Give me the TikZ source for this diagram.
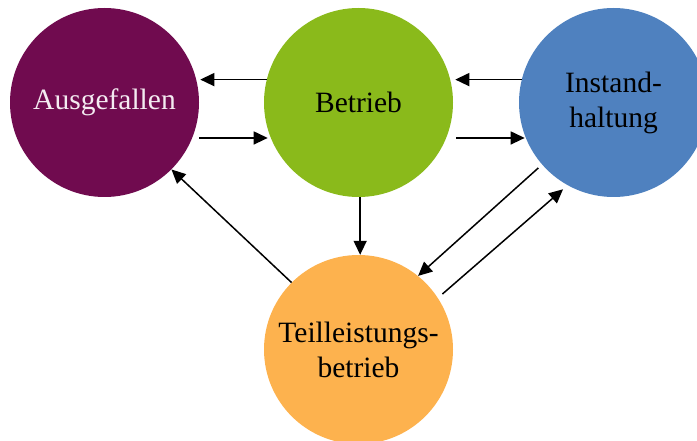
\documentclass[tikz,border=0pt]{standalone}
\usepackage{fontspec}
\setmainfont{Liberation Serif}
\usetikzlibrary{arrows.meta}
\definecolor{cAus}{HTML}{700B4F}
\definecolor{cBet}{HTML}{8ABA1B}
\definecolor{cIns}{HTML}{4F81BF}
\definecolor{cTei}{HTML}{FDB24E}
\tikzset{
  state/.style={circle, minimum size=189pt, inner sep=0pt, draw=none,
    align=center, font=\fontsize{29.5}{35}\selectfont},
  flow/.style={line width=1.5pt, -{Triangle[length=14pt,width=13pt]}}
}
\begin{document}
\begin{tikzpicture}[x=1pt,y=-1pt]
  \useasboundingbox (0,0) rectangle (697,441);
  \clip (0,0) rectangle (697,441);
  \node[state, fill=cAus, text=white!92!cAus] (aus) at (104.5,102.5) {Ausgefallen};
  \node[state, fill=cBet] (bet) at (358.5,102.5) {Betrieb};
  \node[state, fill=cIns] (ins) at (613.5,102.5) {Instand-\\haltung};
  \node[state, fill=cTei] (tei) at (358.5,349.5) {Teilleistungs-\\betrieb};
  % horizontal pairs
  \draw[flow, shorten >=3.5pt] (bet.166.7) -- (aus.13.3 |- bet.166.7);
  \draw[flow, shorten <=7pt, shorten >=3pt] (aus.-22) -- (bet.202 |- aus.-22);
  \draw[flow, shorten >=4.5pt] (ins.166.7) -- (bet.13.3 |- ins.166.7);
  \draw[flow, shorten <=10pt, shorten >=1pt] (bet.-22) -- (ins.202 |- bet.-22);
  % towards and from the partial operation state
  \draw[flow] (bet.-89) -- (tei.89);
  \draw[flow] (tei.135) -- (aus.-45);
  \draw[flow, shorten <=5pt] (ins.221) -- (tei.51);
  \draw[flow, shorten <=6pt, shorten >=6pt] (tei.33) -- (ins.241);
\end{tikzpicture}
\end{document}
